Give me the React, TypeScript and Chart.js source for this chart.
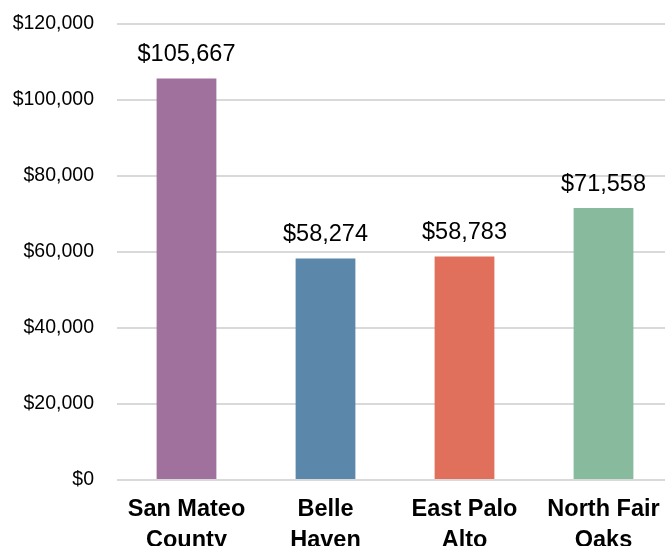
import React, { useEffect, useRef } from "react";
import Chart from "chart.js/auto";

const categories: string[][] = [["San Mateo", "County"], ["Belle", "Haven"], ["East Palo", "Alto"], ["North Fair", "Oaks"]];
const incomes: number[] = [105667, 58274, 58783, 71558];
const barColors: string[] = ["#A0719C", "#5B87AA", "#E0705C", "#88BA9E"];
const yMax = 120000;
const yStep = 20000;

const fmt = (v: number) => "$" + v.toLocaleString("en-US");

export default function App() {
  const ref = useRef<HTMLCanvasElement | null>(null);
  useEffect(() => {
    if (!ref.current) return;
    const labelPlugin = {
      id: "valLabels",
      afterDatasetsDraw(chart: any) {
        const ctx = chart.ctx;
        const meta = chart.getDatasetMeta(0);
        ctx.save();
        ctx.font = "23.5px 'Liberation Sans', Arial, sans-serif";
        ctx.fillStyle = "#000";
        ctx.textAlign = "center";
        ctx.textBaseline = "middle";
        meta.data.forEach((el: any, i: number) => {
          ctx.fillText(fmt(incomes[i]), el.x, el.y - 24);
        });
        ctx.restore();
      },
    };
    const chart = new Chart(ref.current, {
      type: "bar",
      data: {
        labels: categories,
        datasets: [
          {
            data: incomes,
            backgroundColor: barColors,
            borderWidth: 0,
            categoryPercentage: 1,
            barPercentage: 0.43,
          },
        ],
      },
      options: {
        animation: false,
        responsive: false,
        maintainAspectRatio: false,
        layout: { padding: { top: 24, right: 7, left: 0, bottom: 0 } },
        plugins: { legend: { display: false }, tooltip: { enabled: false } },
        scales: {
          x: {
            grid: { display: false, drawTicks: false },
            border: { display: false },
            ticks: {
              color: "#000",
              font: { family: "'Liberation Sans', Arial, sans-serif", size: 23.5, weight: "bold", lineHeight: 1.33 },
              padding: 14,
              maxRotation: 0,
              autoSkip: false,
            },
            afterFit: (s: any) => {
              s.height = 66;
            },
          },
          y: {
            min: 0,
            max: yMax,
            grid: { color: "#D9D9D9", lineWidth: 2, drawTicks: false },
            border: { display: false },
            ticks: {
              stepSize: yStep,
              color: "#000",
              font: { family: "'Liberation Sans', Arial, sans-serif", size: 19.5 },
              padding: 23,
              callback: (v: any) => fmt(Number(v)),
            },
            afterFit: (s: any) => {
              s.width = 117;
              s.paddingTop = 0;
              s.paddingBottom = 0;
            },
          },
        },
      },
      plugins: [labelPlugin],
    });
    return () => chart.destroy();
  }, []);
  return (
    <div style={{ position: "fixed", left: 0, top: 0, width: 665, height: 546, overflow: "hidden", background: "#fff" }}>
      <canvas ref={ref} width={680} height={546} style={{ display: "block", width: 680, height: 546 }} />
    </div>
  );
}
